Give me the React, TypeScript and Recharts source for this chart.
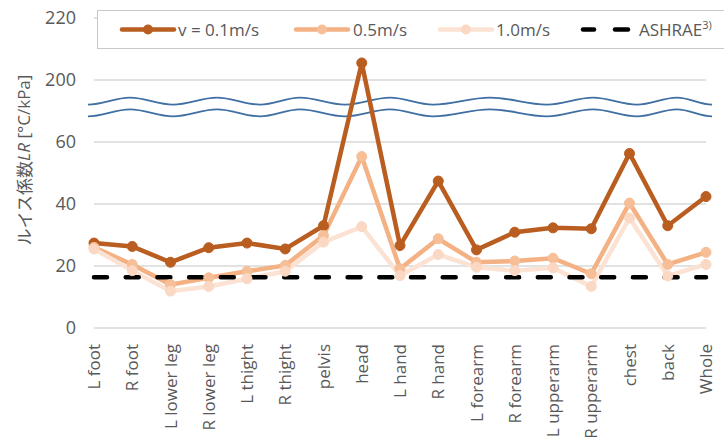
import React from 'react';
import { LineChart, Line, XAxis, YAxis, CartesianGrid, ReferenceArea } from 'recharts';

const categories = ['L foot', 'R foot', 'L lower leg', 'R lower leg', 'L thight', 'R thight', 'pelvis', 'head', 'L hand', 'R hand', 'L forearm', 'R forearm', 'L upperarm', 'R upperarm', 'chest', 'back', 'Whole'];
const v01 = [27.4, 26.3, 21.2, 25.9, 27.4, 25.5, 33.0, 205.5, 26.6, 47.4, 25.2, 30.9, 32.3, 32.0, 56.3, 33.0, 42.4];
const v05 = [26.0, 20.5, 14.0, 16.2, 18.3, 20.2, 29.8, 55.3, 19.1, 28.8, 21.2, 21.6, 22.5, 17.5, 40.3, 20.5, 24.4];
const v10 = [25.5, 18.5, 11.9, 13.4, 15.9, 18.3, 27.7, 32.7, 16.9, 23.7, 19.6, 18.5, 19.4, 13.4, 35.5, 16.8, 20.5];
const ashraeValue = 16.4;
const yTicks = [0, 20, 40, 60, 80, 100];
const seriesNames = ['v = 0.1m/s', '0.5m/s', '1.0m/s', 'ASHRAE'];

// broken axis: values above the break are shifted down by 120
const BREAK_SHIFT = 120;
const toPlot = (v: number) => (v > 100 ? v - BREAK_SHIFT : v);
const tickLabel = (t: number) => String(t >= 80 ? t + BREAK_SHIFT : t);

const data = categories.map((c, i) => ({
  name: c,
  a: toPlot(v01[i]),
  b: toPlot(v05[i]),
  c: toPlot(v10[i]),
  d: ashraeValue,
}));

const C_DARK = '#b95d20';
const C_MID = '#f4b183';
const C_MID_M = '#f6bf98';
const C_LIGHT = '#fbe2d3';
const C_LIGHT_M = '#fad8c4';
const TXT = '#595959';
const FONT = '"Open Sans", "Noto Sans", sans-serif';

// wave extrema positions as fractions of plot width (relative to plot left)
const waveX = [88, 130, 173, 217, 260, 300, 345, 390, 433, 490, 547, 593, 637, 677, 712].map((p) => (p - 94) / 612);

const wavePath = (x0: number, w: number, yc: number, amp: number) => {
  const pts = waveX.map((f, i) => [x0 + f * w, yc + (i % 2 === 0 ? amp : -amp)]);
  let d = `M${pts[0][0]},${pts[0][1]}`;
  for (let i = 1; i < pts.length; i++) {
    const [px, py] = pts[i - 1];
    const [x, y] = pts[i];
    const dx = x - px;
    d += ` C${px + dx * 0.36},${py} ${x - dx * 0.36},${y} ${x},${y}`;
  }
  return d;
};

const WaveShape = (props: any) => {
  const { x, y, width, height } = props;
  const ppu = height / 12; // y1=66,y2=78
  const top = y + (78 - 73.2) * ppu;
  const bot = y + (78 - 69.4) * ppu;
  return (
    <g>
      <path d={wavePath(x, width, top, 3.5)} fill="none" stroke="#3f6fa3" strokeWidth={1.8} />
      <path d={wavePath(x, width, bot, 3.5)} fill="none" stroke="#3f6fa3" strokeWidth={1.8} />
    </g>
  );
};

const XTick = (props: any) => {
  const { x, y, payload } = props;
  return (
    <text
      x={x}
      y={y}
      transform={`rotate(-90, ${x}, ${y})`}
      textAnchor="end"
      dy="0.36em"
      fill={TXT}
      fontSize={17}
      fontFamily={FONT}
    >
      {payload.value}
    </text>
  );
};

const YLabel = (props: any) => {
  const vb = props.viewBox || { x: 0, y: 18, width: 94, height: 310 };
  const cx = 23;
  const cy = vb.y + vb.height / 2 - 13;
  return (
    <text
      x={cx}
      y={cy}
      transform={`rotate(-90, ${cx}, ${cy})`}
      textAnchor="middle"
      dominantBaseline="central"
      fill={TXT}
      fontSize={17}
      fontFamily={FONT}
    >
      <tspan fontFamily='"Noto Sans CJK JP", sans-serif'>ルイス係数</tspan>
      <tspan fontStyle="italic">LR</tspan>
      <tspan> [°C/kPa]</tspan>
    </text>
  );
};

const LegendOverlay = () => (
  <svg width={724} height={60} style={{ position: 'absolute', left: 0, top: 0 }}>
    <rect x={97.5} y={10.5} width={700} height={38} fill="#ffffff" stroke="#c8c8c8" strokeWidth={1} />
    <line x1={122} x2={174} y1={29.5} y2={29.5} stroke={C_DARK} strokeWidth={4.5} strokeLinecap="round" />
    <circle cx={148} cy={29.5} r={5} fill={C_DARK} />
    <text x={178} y={29.5} dominantBaseline="central" fill={TXT} fontSize={17} fontFamily={FONT}>{seriesNames[0]}</text>
    <line x1={296} x2={348} y1={29.5} y2={29.5} stroke={C_MID} strokeWidth={4.5} strokeLinecap="round" />
    <circle cx={322} cy={29.5} r={5} fill={C_MID_M} />
    <text x={353} y={29.5} dominantBaseline="central" fill={TXT} fontSize={17} fontFamily={FONT}>{seriesNames[1]}</text>
    <line x1={440} x2={492} y1={29.5} y2={29.5} stroke={C_LIGHT} strokeWidth={4.5} strokeLinecap="round" />
    <circle cx={466} cy={29.5} r={5} fill={C_LIGHT_M} />
    <text x={496} y={29.5} dominantBaseline="central" fill={TXT} fontSize={17} fontFamily={FONT}>{seriesNames[2]}</text>
    <line x1={583} x2={594} y1={29.5} y2={29.5} stroke="#000" strokeWidth={4.5} strokeLinecap="round" />
    <line x1={615} x2={628} y1={29.5} y2={29.5} stroke="#000" strokeWidth={4.5} strokeLinecap="round" />
    <text x={639} y={29.5} dominantBaseline="central" fill={TXT} fontSize={17} fontFamily={FONT}>
      {seriesNames[3]}
      <tspan fontSize={11} dy={-6}>3)</tspan>
    </text>
  </svg>
);

export default function App() {
  return (
    <div style={{ position: 'absolute', left: 0, top: 0, width: 724, height: 448, overflow: 'hidden', background: '#fff' }}>
      <LineChart width={724} height={448} data={data} margin={{ top: 18, right: 18, bottom: 0, left: 0 }}>
        <CartesianGrid vertical={false} stroke="#d9d9d9" strokeWidth={1.3} />
        <XAxis
          dataKey="name"
          interval={0}
          tickLine={false}
          axisLine={false}
          tickSize={0}
          tickMargin={16}
          height={120}
          tick={<XTick />}
        />
        <YAxis
          type="number"
          domain={[0, 100]}
          ticks={yTicks}
          tickFormatter={tickLabel}
          width={94}
          tickLine={false}
          axisLine={false}
          tickSize={0}
          tickMargin={18}
          tick={{ fill: TXT, fontSize: 18, fontFamily: FONT }}
          label={<YLabel />}
        />
        <ReferenceArea y1={66} y2={78} ifOverflow="visible" shape={WaveShape} />
        <Line
          dataKey="a"
          name={seriesNames[0]}
          stroke={C_DARK}
          strokeWidth={4.5}
          dot={{ r: 5, fill: C_DARK, stroke: C_DARK, strokeWidth: 1 }}
          isAnimationActive={false}
        />
        <Line
          dataKey="b"
          name={seriesNames[1]}
          stroke={C_MID}
          strokeWidth={4.5}
          dot={{ r: 5, fill: C_MID_M, stroke: C_MID_M, strokeWidth: 1 }}
          isAnimationActive={false}
        />
        <Line
          dataKey="c"
          name={seriesNames[2]}
          stroke={C_LIGHT}
          strokeWidth={4.5}
          dot={{ r: 5, fill: C_LIGHT_M, stroke: C_LIGHT_M, strokeWidth: 1 }}
          isAnimationActive={false}
        />
        <Line
          dataKey="d"
          name={seriesNames[3]}
          stroke="#000"
          strokeWidth={4.5}
          strokeDasharray="13 18.7"
          strokeLinecap="round"
          dot={false}
          isAnimationActive={false}
        />
      </LineChart>
      <LegendOverlay />
    </div>
  );
}
